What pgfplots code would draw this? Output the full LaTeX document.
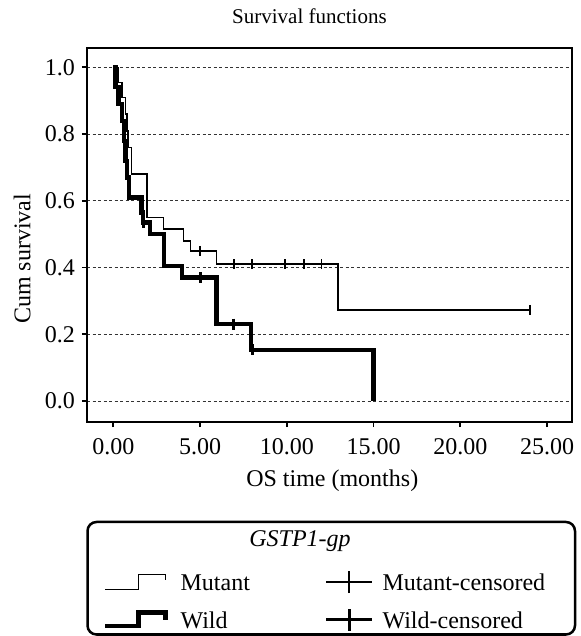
\documentclass[border=0pt]{standalone}
\usepackage{fontspec}
\setmainfont{Liberation Serif}
\usepackage{pgfplots}
\pgfplotsset{compat=1.18}
\newcommand{\fsA}{\fontsize{24bp}{28bp}\selectfont}
\newcommand{\fsT}{\fontsize{21bp}{25bp}\selectfont}
\begin{document}
\begin{tikzpicture}
\useasboundingbox (0,0) rectangle (581bp,636bp);
\begin{axis}[
  at={(87bp,214bp)}, anchor=south west,
  scale only axis, width=484.7bp, height=374bp,
  xmin=-1.52, xmax=26.42, ymin=-0.063, ymax=1.058,
  xtick={0,5,10,15,20,25}, ytick={0,0.2,0.4,0.6,0.8,1.0},
  xtick pos=bottom, ytick pos=left, tick align=outside,
  major tick length=5bp,
  tick style={line width=1.8bp, black},
  axis line style={line width=1.8bp},
  ymajorgrids,
  grid style={line width=0.8bp, black!80, dash pattern=on 3bp off 2.5bp},
  /pgf/number format/assume math mode=true,
  xticklabel style={/pgf/number format/.cd, fixed, fixed zerofill, precision=2, /tikz/.cd, font=\fsA, inner sep=0pt, anchor=north, yshift=-11bp},
  yticklabel style={/pgf/number format/.cd, fixed, fixed zerofill, precision=1, /tikz/.cd, font=\fsA, inner sep=0pt, anchor=east, xshift=-7bp},
  xlabel={OS time (months)},
  xlabel style={at={(axis description cs:0.506,-0.158)}, anchor=center, font=\fsA},
  ylabel={Cum survival},
  ylabel style={at={(axis description cs:-0.134,0.436)}, anchor=center, font=\fsA},
  title={Survival functions},
  title style={at={(axis description cs:0.459,1.068)}, anchor=center, font=\fsT},
  legend columns=2,
  legend cell align=left,
  legend style={at={(axis description cs:0.0334,-0.396)}, anchor=north west, draw=none, fill=none, inner sep=0pt, font=\fsA, row sep=13.5bp,
    nodes={inner sep=0pt, text height=16.5bp, text depth=0bp},
    /tikz/column 1/.style={column sep=13bp},
    /tikz/column 2/.style={column sep=74.7bp},
    /tikz/column 3/.style={column sep=9bp}},
]
% Mutant
\addplot[const plot, line width=1.6bp, black, forget plot] coordinates {
 (0,1.0) (0.25,0.955) (0.5,0.91) (0.7,0.86) (0.77,0.81) (0.85,0.76) (1.05,0.68)
 (1.95,0.55) (2.9,0.515) (4.05,0.48) (4.45,0.45) (5.95,0.41) (12.95,0.273) (24.0,0.273)};
\addplot[only marks, black, mark=|, mark size=5bp, mark options={line width=1.6bp}, forget plot] coordinates {
 (5.0,0.45) (6.95,0.41) (8.0,0.41) (9.9,0.41) (11.0,0.41) (12.0,0.41) (24.0,0.273)};
% Wild
\addplot[const plot, line width=4.2bp, black, forget plot] coordinates {
 (0,1.0) (0.12,0.94) (0.3,0.89) (0.5,0.84) (0.6,0.78) (0.7,0.72) (0.8,0.67) (0.9,0.61)
 (1.62,0.565) (1.7,0.535) (2.1,0.50) (2.9,0.405) (3.95,0.37) (5.95,0.23) (7.95,0.153) (15.0,0.0)};
\addplot[only marks, black, mark=|, mark size=5.5bp, mark options={line width=3bp}, forget plot] coordinates {
 (1.75,0.535) (5.0,0.37) (6.95,0.23) (8.0,0.153)};
% legend
\addlegendimage{legend image code/.code={\draw[line width=1.6bp, black] (0bp,-7.5bp) -- (33bp,-7.5bp) -- (33bp,7.5bp) -- (60bp,7.5bp) -- (60bp,2bp);}}
\addlegendentry{Mutant}
\addlegendimage{legend image code/.code={\draw[line width=1.6bp, black] (0bp,0bp) -- (46bp,0bp); \draw[line width=1.6bp, black] (23bp,-11bp) -- (23bp,11bp);}}
\addlegendentry{Mutant-censored}
\addlegendimage{legend image code/.code={\draw[line width=4.2bp, black] (0bp,-6bp) -- (33bp,-6bp) -- (33bp,7.5bp) -- (60bp,7.5bp) -- (60bp,0bp);}}
\addlegendentry{Wild}
\addlegendimage{legend image code/.code={\draw[line width=3bp, black] (0bp,0bp) -- (46bp,0bp); \draw[line width=3bp, black] (23bp,-11bp) -- (23bp,11bp);}}
\addlegendentry{Wild-censored}
\end{axis}
\draw[line width=2.5bp, rounded corners=9bp] (87.5bp,1.5bp) rectangle (575bp,114bp);
\node[font=\fsA\itshape] at (300bp,95bp) {GSTP1-gp};
\end{tikzpicture}
\end{document}
